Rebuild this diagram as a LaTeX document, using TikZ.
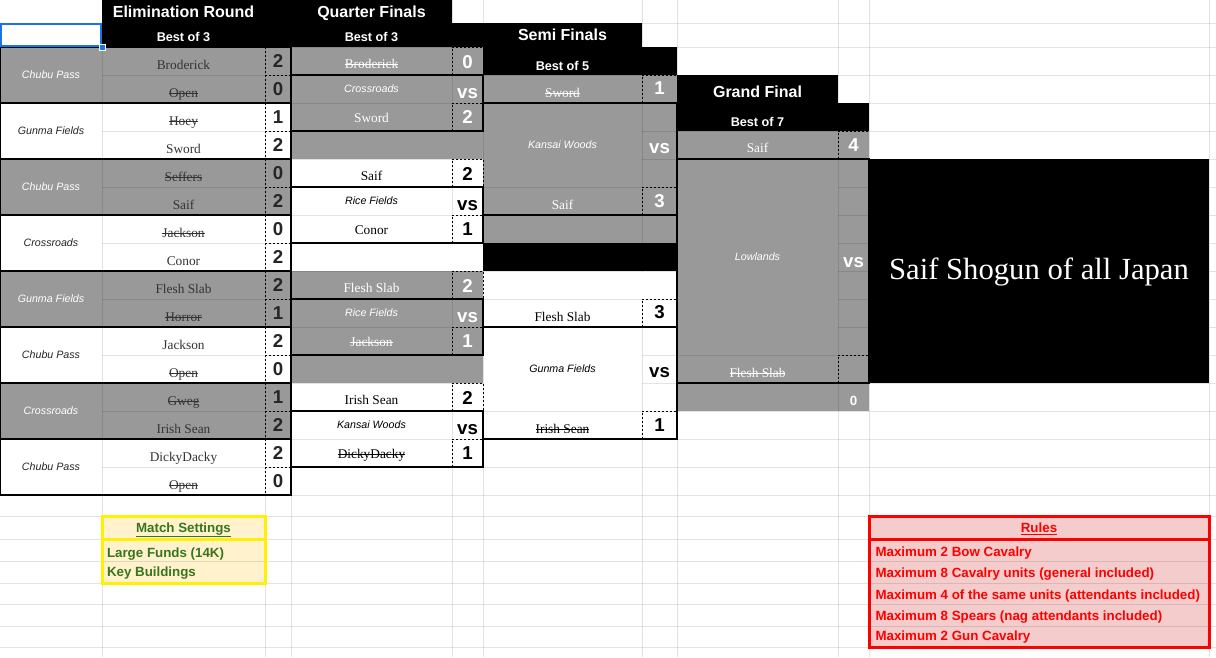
\documentclass[tikz,border=0pt]{standalone}
\usepackage{fontspec}
\newfontfamily\sheetsans{Liberation Sans}
\newfontfamily\sheetserif{Liberation Serif}

\definecolor{cellgray}{HTML}{999999}
\definecolor{selblue}{HTML}{1A73E8}
\definecolor{setfill}{HTML}{FFF2CC}
\definecolor{setgreen}{HTML}{38761D}
\definecolor{rulefill}{HTML}{F4CCCC}
\definecolor{rulered}{HTML}{FF0000}
\definecolor{namegray}{HTML}{333333}

% struck-through name of a player who lost
\newcommand{\lost}[1]{\setbox0=\hbox{#1}\rlap{#1}\rule[0.25em]{\wd0}{0.6pt}}

\begin{document}
\begin{tikzpicture}[x=0.75pt, y=-0.75pt,
    every node/.style={inner sep=0pt, outer sep=0pt},
    gridline/.style={black, opacity=0.11, line width=0.75pt},
    boxline/.style={black, line width=1.5pt},
    dotline/.style={black, line width=0.75pt, dash pattern=on 1.5pt off 1.5pt},
    title/.style={text=white, font=\sheetsans\bfseries\fontsize{12}{14}\selectfont, anchor=base},
    bestof/.style={text=white, font=\sheetsans\bfseries\fontsize{9.5}{11}\selectfont, anchor=base},
    arena/.style={font=\sheetsans\itshape\fontsize{8}{10}\selectfont},
    player/.style={font=\sheetserif\fontsize{10}{12}\selectfont, anchor=base},
    score/.style={font=\sheetsans\bfseries\fontsize{14}{16}\selectfont, anchor=base},
    note/.style={font=\sheetsans\bfseries\fontsize{10}{12}\selectfont, anchor=base west}]

	\useasboundingbox (0,0) rectangle (1216,657);
	\fill[white] (0,0) rectangle (1216,657);

	% cell fills
	\fill (102,0) rectangle (452,23);
	\fill (102,23) rectangle (642,47);
	\fill (483,47) rectangle (677,75);
	\fill (677,75) rectangle (838,103);
	\fill (677,103) rectangle (869,131);
	\fill (483,243) rectangle (677,271);
	\foreach \k in {0,2,4,6} \fill[cellgray] (0,47+56*\k) rectangle (291,103+56*\k);
	\fill[cellgray] (291,47) rectangle (483,159);
	\fill[cellgray] (291,271) rectangle (483,383);
	\fill[cellgray] (483,75) rectangle (677,243);
	\fill[cellgray] (677,131) rectangle (869,411);
	\fill[setfill] (102,516) rectangle (265,583);
	\fill[rulefill] (869,516) rectangle (1209,647);

	% sheet grid
	\foreach \gx in {102,265,291,452,483,642,677,838,869,1209}
		\draw[gridline] (\gx,0) -- (\gx,657);
	\foreach \gy in {23,47,75,103,...,495}
		\draw[gridline] (0,\gy) -- (1216,\gy);
	\foreach \gy in {516,539,561,583,604,626,647}
		\draw[gridline] (0,\gy) -- (1216,\gy);

	% merged cells
	\foreach \k in {0,2,4,6} \fill[cellgray] (0.5,47.5+56*\k) rectangle (101.5,102.5+56*\k);
	\foreach \k in {1,3,5,7} \fill[white] (0.5,47.5+56*\k) rectangle (101.5,102.5+56*\k);
	\fill[cellgray] (291.5,131.5) rectangle (482.5,158.5);
	\fill[cellgray] (291.5,355.5) rectangle (482.5,382.5);
	\fill[white] (291.5,243.5) rectangle (482.5,270.5);
	\fill[cellgray] (483.5,103.5) rectangle (641.5,186.5);
	\fill[white] (483.5,271.5) rectangle (676.5,298.5);
	\fill[white] (483.5,327.5) rectangle (641.5,410.5);
	\fill[cellgray] (677.5,159.5) rectangle (837.5,354.5);
	\fill (869,159) rectangle (1209,383);

	% borders
	\draw[dotline] (265,47) -- (265,495);
	\foreach \k in {0,...,7} {
		\draw[dotline] (265,75+56*\k) -- (291,75+56*\k);
		\draw[boxline] (0,47+56*\k) rectangle (291,103+56*\k);
	}
	\foreach \t in {47,159,271,383} {
		\draw[dotline] (452,\t+28) -- (452,\t) -- (483,\t) -- (483,\t+28);
		\draw[dotline] (452,\t+84) -- (452,\t+56) -- (483,\t+56);
		\draw[boxline] (291,\t+28) -- (483,\t+28) -- (483,\t+84) -- (291,\t+84);
	}
	\foreach \t in {75,299} {
		\draw[dotline] (642,\t+28) -- (642,\t) -- (677,\t) -- (677,\t+28);
		\draw[dotline] (642,\t+140) -- (642,\t+112) -- (677,\t+112);
		\draw[boxline] (483,\t+28) -- (677,\t+28) -- (677,\t+140) -- (483,\t+140);
	}
	\draw[dotline] (838,159) -- (838,131) -- (869,131);
	\draw[dotline] (838,383) -- (838,355) -- (869,355);
	\draw[boxline] (677,159) rectangle (869,383);

	\draw[yellow, line width=2.25pt] (102,516) rectangle (265,583);
	\draw[yellow, line width=2.25pt] (102,539) -- (265,539);
	\draw[rulered, line width=2.25pt] (869,516) rectangle (1209,647);
	\draw[rulered, line width=2.25pt] (869,539) -- (1209,539);

	% selected cell
	\draw[selblue, line width=1.5pt] (1,24) rectangle (101,46);
	\filldraw[fill=selblue, draw=white, line width=0.75pt] (99,44) rectangle (105,50);

	% headings
	\node[title] (elimtitle) at (183.5,17) {Elimination Round};
	\node[bestof] (elimbest) at (183.5,41) {Best of 3};
	\node[title] (qftitle) at (371.5,17) {Quarter Finals};
	\node[bestof] (qfbest) at (371.5,41) {Best of 3};
	\node[title] (sftitle) at (562.5,40) {Semi Finals};
	\node[bestof] (sfbest) at (562.5,70) {Best of 5};
	\node[title] (gftitle) at (757.5,97) {Grand Final};
	\node[bestof] (gfbest) at (757.5,126) {Best of 7};

	% elimination round
	\foreach \k/\place/\pa/\pb/\sa/\sb in {0/Chubu Pass/Broderick/\lost{Open}/2/0,
			1/Gunma Fields/\lost{Hoey}/Sword/1/2, 2/Chubu Pass/\lost{Seffers}/Saif/0/2,
			3/Crossroads/\lost{Jackson}/Conor/0/2, 4/Gunma Fields/Flesh Slab/\lost{Horror}/2/1,
			5/Chubu Pass/Jackson/\lost{Open}/2/0, 6/Crossroads/\lost{Gweg}/Irish Sean/1/2,
			7/Chubu Pass/DickyDacky/\lost{Open}/2/0} {
		\ifodd\k \def\arenacol{black!85}\else \def\arenacol{white}\fi
		\node[arena, text=\arenacol] (elim\k-m) at (51,75+56*\k) {\place};
		\node[player, text=namegray] (elim\k-a) at (183.5,69+56*\k) {\pa};
		\node[player, text=namegray] (elim\k-b) at (183.5,97+56*\k) {\pb};
		\node[score, text=black!85] (elim\k-sa) at (278,67.5+56*\k) {\sa};
		\node[score, text=black!85] (elim\k-sb) at (278,95.5+56*\k) {\sb};
	}

	% quarter finals
	\foreach \t/\pa/\place/\pb/\sa/\sb/\tc in {47/\lost{Broderick}/Crossroads/Sword/0/2/white,
			159/Saif/Rice Fields/Conor/2/1/black, 271/Flesh Slab/Rice Fields/\lost{Jackson}/2/1/white,
			383/Irish Sean/Kansai Woods/\lost{DickyDacky}/2/1/black} {
		\node[player, text=\tc] (qf\t-a) at (371.5,\t+21) {\pa};
		\node[arena, text=\tc] (qf\t-m) at (371.5,\t+42) {\place};
		\node[player, text=\tc] (qf\t-b) at (371.5,\t+75) {\pb};
		\node[score, text=\tc] (qf\t-sa) at (467.5,\t+21) {\sa};
		\node[score, text=\tc] (qf\t-vs) at (467.5,\t+51) {vs};
		\node[score, text=\tc] (qf\t-sb) at (467.5,\t+76) {\sb};
	}

	% semi finals
	\foreach \t/\pa/\place/\pb/\sa/\sb/\tc in {75/\lost{Sword}/Kansai Woods/Saif/1/3/white,
			299/Flesh Slab/Gunma Fields/\lost{Irish Sean}/3/1/black} {
		\node[player, text=\tc] (sf\t-a) at (562.5,\t+22) {\pa};
		\node[arena, text=\tc] (sf\t-m) at (562.5,\t+70) {\place};
		\node[player, text=\tc] (sf\t-b) at (562.5,\t+134) {\pb};
		\node[score, text=\tc] (sf\t-sa) at (659.5,\t+19.5) {\sa};
		\node[score, text=\tc] (sf\t-vs) at (659.5,\t+78.5) {vs};
		\node[score, text=\tc] (sf\t-sb) at (659.5,\t+132.5) {\sb};
	}

	% grand final
	\node[player, text=white] (gf-a) at (757.5,152) {Saif};
	\node[arena, text=white] (gf-m) at (757.5,257) {Lowlands};
	\node[player, text=white] (gf-b) at (757.5,377) {\lost{Flesh Slab}};
	\node[score, text=white] (gf-sa) at (853.5,151) {4};
	\node[score, text=white] (gf-vs) at (853.5,267) {vs};
	\node[text=white, font=\sheetsans\bfseries\fontsize{10}{12}\selectfont, anchor=base] (gf-sb) at (853.5,405) {0};

	\node[text=white, font=\sheetserif\fontsize{23}{26}\selectfont] (shogun) at (1039,272) {Saif Shogun of all Japan};

	% settings and rules
	\node[note, anchor=base, text=setgreen] (sethead) at (183.5,532) {\underline{Match Settings}};
	\node[note, text=setgreen] (set1) at (107,557) {Large Funds (14K)};
	\node[note, text=setgreen] (set2) at (107,576) {Key Buildings};

	\node[note, anchor=base, text=rulered] (rulehead) at (1039,532) {\underline{Rules}};
	\node[note, text=rulered] (rule1) at (875.5,556) {Maximum 2 Bow Cavalry};
	\node[note, text=rulered] (rule2) at (875.5,577) {Maximum 8 Cavalry units (general included)};
	\node[note, text=rulered] (rule3) at (875.5,599) {Maximum 4 of the same units (attendants included)};
	\node[note, text=rulered] (rule4) at (875.5,620) {Maximum 8 Spears (nag attendants included)};
	\node[note, text=rulered] (rule5) at (875.5,640.5) {Maximum 2 Gun Cavalry};
\end{tikzpicture}
\end{document}
